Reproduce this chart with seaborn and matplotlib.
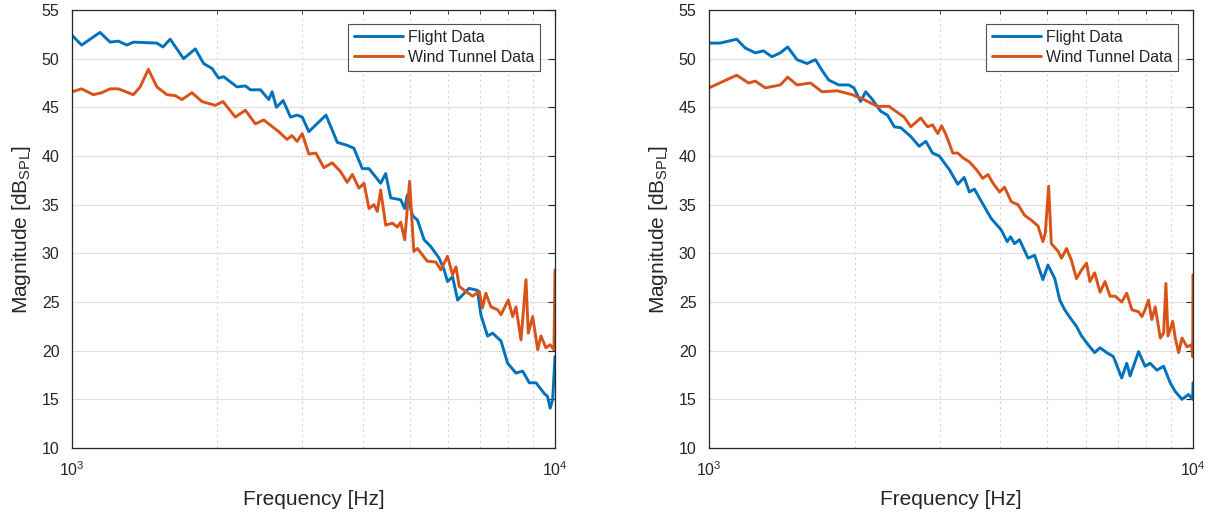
import numpy as np
import matplotlib
matplotlib.use("Agg")
import matplotlib.pyplot as plt
import seaborn as sns
from matplotlib.ticker import LogLocator, NullFormatter, MultipleLocator

# Left panel: flight vs wind tunnel spectra
left_flight_f = [1000, 1047, 1143, 1199, 1247, 1299, 1340, 1499, 1543, 1597, 1702, 1800, 1873,
                 1949, 2012, 2060, 2196, 2285, 2341, 2456, 2555, 2596, 2650, 2736, 2834, 2925,
                 2997, 3093, 3198, 3356, 3542, 3713, 3833, 3991, 4120, 4356, 4461, 4569, 4792,
                 4884, 4947, 5068, 5192, 5357, 5530, 5756, 5895, 5991, 6136, 6286, 6636, 6910,
                 7022, 7251, 7428, 7729, 7980, 8302, 8571, 8847, 9134, 9500, 9651, 9774, 9890,
                 10000]
left_flight_db = [52.4, 51.4, 52.7, 51.7, 51.8, 51.4, 51.7, 51.6, 51.2, 52.0, 50.0, 51.0, 49.5,
                  49.0, 48.0, 48.15, 47.1, 47.2, 46.8, 46.8, 45.8, 46.6, 45.0, 45.7, 44.0, 44.2,
                  44.0, 42.5, 43.2, 44.2, 41.4, 41.1, 40.8, 38.7, 38.7, 37.2, 38.2, 35.7, 35.5,
                  34.6, 36.0, 33.9, 33.4, 31.4, 30.7, 29.5, 28.3, 27.1, 27.6, 25.2, 26.4, 26.2,
                  23.7, 21.5, 21.8, 21.0, 18.7, 17.7, 17.9, 16.7, 16.7, 15.6, 15.3, 14.1, 15.0,
                  19.4]

left_tunnel_f = [1000, 1047, 1107, 1152, 1199, 1247, 1340, 1384, 1439, 1499, 1572, 1636, 1689,
                 1771, 1858, 1980, 2054, 2178, 2285, 2397, 2494, 2680, 2787, 2853, 2925, 2997,
                 3093, 3198, 3322, 3457, 3597, 3713, 3806, 3927, 4023, 4120, 4219, 4287, 4356,
                 4461, 4606, 4717, 4792, 4884, 5000, 5101, 5192, 5436, 5667, 5802, 5991, 6136,
                 6239, 6334, 6536, 6751, 6967, 7078, 7190, 7368, 7609, 7729, 8003, 8172, 8302,
                 8503, 8708, 8804, 8991, 9208, 9354, 9575, 9774, 9950, 10000]
left_tunnel_db = [46.6, 46.9, 46.3, 46.5, 46.9, 46.9, 46.3, 47.1, 48.9, 47.1, 46.3, 46.2, 45.8,
                  46.5, 45.6, 45.2, 45.6, 44.0, 44.7, 43.3, 43.7, 42.5, 41.7, 42.1, 41.5, 42.3,
                  40.2, 40.3, 38.8, 39.3, 38.4, 37.3, 38.1, 36.7, 37.2, 34.6, 35.0, 34.3, 36.5,
                  32.9, 33.1, 32.7, 33.2, 31.4, 37.4, 30.2, 30.5, 29.2, 29.1, 28.3, 29.7, 27.8,
                  28.6, 26.6, 26.1, 25.6, 26.1, 24.4, 25.9, 24.5, 24.2, 23.7, 25.2, 23.5, 24.5,
                  21.1, 27.3, 21.8, 23.5, 20.1, 21.5, 20.3, 20.6, 20.1, 28.3]

# Right panel
right_flight_f = [1000, 1054, 1141, 1188, 1246, 1296, 1349, 1404, 1454, 1520, 1594, 1659, 1712,
                  1768, 1854, 1945, 1992, 2057, 2107, 2176, 2263, 2337, 2415, 2491, 2612, 2717,
                  2806, 2897, 2991, 3138, 3266, 3367, 3451, 3535, 3706, 3827, 4016, 4132, 4198,
                  4278, 4381, 4563, 4707, 4896, 5016, 5181, 5306, 5432, 5607, 5744, 5887, 6074,
                  6265, 6426, 6634, 6846, 7123, 7296, 7414, 7718, 7961, 8156, 8424, 8696, 8972,
                  9190, 9490, 9790, 9985, 10000]
right_flight_db = [51.6, 51.6, 52.0, 51.1, 50.6, 50.8, 50.2, 50.6, 51.2, 49.9, 49.5, 49.9, 48.8,
                   47.8, 47.3, 47.3, 47.0, 45.6, 46.6, 45.8, 44.6, 44.2, 43.0, 42.9, 42.0, 41.0,
                   41.5, 40.3, 40.0, 38.6, 37.1, 37.8, 36.3, 36.6, 34.8, 33.6, 32.4, 31.2, 31.7,
                   31.0, 31.4, 29.5, 29.8, 27.3, 28.8, 27.4, 25.2, 24.2, 23.2, 22.5, 21.5, 20.6,
                   19.8, 20.3, 19.8, 19.4, 17.2, 18.7, 17.4, 19.9, 18.4, 18.7, 18.0, 18.4, 16.7,
                   15.8, 15.0, 15.5, 15.0, 16.7]

right_tunnel_f = [1000, 1141, 1207, 1246, 1307, 1404, 1454, 1520, 1621, 1712, 1840, 1977, 2090,
                  2228, 2355, 2431, 2530, 2612, 2738, 2829, 2897, 2969, 3024, 3087, 3190, 3266,
                  3350, 3451, 3569, 3678, 3771, 3862, 3984, 4079, 4213, 4348, 4490, 4636, 4785,
                  4896, 4953, 5032, 5096, 5266, 5348, 5480, 5607, 5744, 5887, 6027, 6123, 6265,
                  6426, 6580, 6739, 6906, 7123, 7296, 7477, 7718, 7842, 7961, 8088, 8222, 8356,
                  8560, 8696, 8791, 8878, 9080, 9190, 9340, 9490, 9719, 9937, 9985, 10000]
right_tunnel_db = [47.0, 48.3, 47.5, 47.7, 47.0, 47.3, 48.1, 47.3, 47.5, 46.6, 46.7, 46.3, 45.8,
                   45.1, 45.1, 44.6, 44.0, 43.0, 43.9, 43.0, 43.2, 42.3, 43.1, 42.2, 40.3, 40.3,
                   39.8, 39.4, 38.6, 37.7, 38.1, 37.2, 36.3, 36.8, 35.3, 35.0, 33.9, 33.4, 32.8,
                   31.2, 32.1, 36.9, 31.0, 30.2, 29.5, 30.5, 29.3, 27.4, 28.3, 29.0, 27.1, 28.0,
                   26.0, 27.1, 25.6, 25.6, 25.0, 25.9, 24.2, 24.0, 23.5, 24.2, 25.2, 23.2, 24.5,
                   21.3, 21.8, 26.9, 21.5, 23.0, 21.3, 19.8, 21.3, 20.4, 20.6, 19.4, 27.8]

labels = ["Flight Data", "Wind Tunnel Data"]
colors = ["#0072BD", "#D95319"]

sns.set_theme(style="white")
plt.rcParams["font.family"] = ["Liberation Sans", "DejaVu Sans"]
plt.rcParams["mathtext.default"] = "regular"

fig = plt.figure(figsize=(12.14, 5.15), dpi=100)
ax1 = fig.add_axes([72 / 1214, 67 / 515, 483 / 1214, 438 / 515])
ax2 = fig.add_axes([709 / 1214, 67 / 515, 484 / 1214, 438 / 515])

panels = [
    (ax1, left_flight_f, left_flight_db, left_tunnel_f, left_tunnel_db),
    (ax2, right_flight_f, right_flight_db, right_tunnel_f, right_tunnel_db),
]

axis_col = "#262626"
for ax, ff, fdb, tf, tdb in panels:
    sns.lineplot(x=ff, y=fdb, ax=ax, color=colors[0], lw=2.1, label=labels[0])
    sns.lineplot(x=tf, y=tdb, ax=ax, color=colors[1], lw=2.1, label=labels[1])
    ax.set_xscale("log")
    ax.set_xlim(1000, 10000)
    ax.set_ylim(10, 55)
    ax.yaxis.set_major_locator(MultipleLocator(5))
    ax.xaxis.set_major_locator(LogLocator(base=10))
    ax.xaxis.set_minor_locator(LogLocator(base=10, subs=np.arange(2, 10)))
    ax.xaxis.set_minor_formatter(NullFormatter())
    ax.grid(True, which="major", axis="y", color="#e0e0e0", lw=0.9, ls="-")
    ax.grid(True, which="minor", axis="x", color="#d4d4d4", lw=0.8, ls=(0, (2, 3)))
    ax.set_axisbelow(True)
    ax.tick_params(which="both", direction="in", top=True, right=True, colors=axis_col,
                   labelsize=11.5, labelcolor=axis_col)
    ax.tick_params(which="major", length=5, width=0.8)
    ax.tick_params(which="minor", length=3, width=0.6)
    ax.tick_params(axis="x", which="major", pad=9)
    ax.tick_params(axis="y", which="major", pad=9)
    for sp in ax.spines.values():
        sp.set_color(axis_col)
        sp.set_linewidth(0.9)
    ax.set_xlabel("Frequency [Hz]", fontsize=15, color=axis_col, labelpad=8)
    ax.set_ylabel("Magnitude [dB$_{SPL}$]", fontsize=15, color=axis_col, labelpad=6)
    leg = ax.legend(loc="upper right", fontsize=11.4, frameon=True, fancybox=False,
                    edgecolor=axis_col, handlelength=3.1, handletextpad=0.3,
                    borderpad=0.38, labelspacing=0.3, borderaxespad=0,
                    bbox_to_anchor=(0.969, 0.968))
    leg.get_frame().set_linewidth(0.8)

fig.savefig("out.png", dpi=100, facecolor="white")
